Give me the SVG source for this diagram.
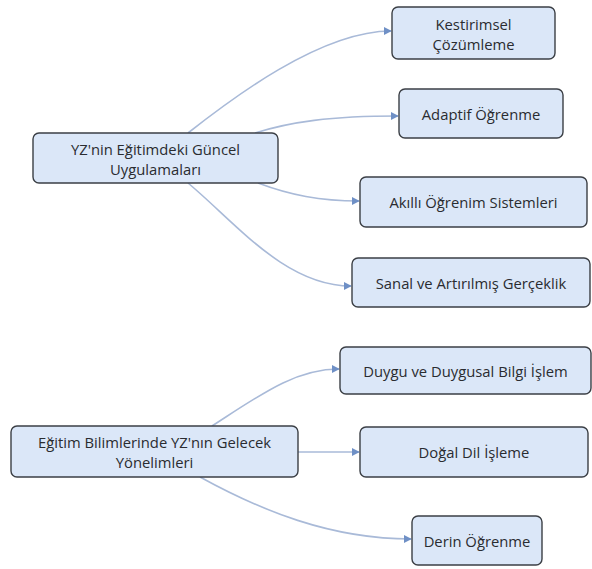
<svg xmlns="http://www.w3.org/2000/svg" width="592" height="569" viewBox="0 0 592 569">
  <style>
    .box { fill: #dbe7f8; stroke: #3b3f45; stroke-width: 1.4; }
    .lbl { font-family: "Open Sans", "Noto Sans", "Liberation Sans", sans-serif; font-size: 14.8px; fill: #2a2c30; text-anchor: middle; dominant-baseline: central; }
    .link { fill: none; stroke: #a9bad8; stroke-width: 1.6; }
  </style>
  <defs>
    <marker id="arrow" viewBox="0 0 10 10" refX="9" refY="5" markerWidth="8" markerHeight="8" markerUnits="userSpaceOnUse" orient="auto">
      <path d="M0,0 L10,5 L0,10 Z" fill="#6f90c6"/>
    </marker>
  </defs>
  <rect width="592" height="569" fill="#ffffff"/>

  <g id="connectors">
    <path class="link" marker-end="url(#arrow)" d="M188,133 C230,100 320,31 391,31"/>
    <path class="link" marker-end="url(#arrow)" d="M255,133 C290,122 330,116 398,116"/>
    <path class="link" marker-end="url(#arrow)" d="M258,183 C290,195 320,201 359,201"/>
    <path class="link" marker-end="url(#arrow)" d="M188,183 C235,222 285,286 351,286"/>
    <path class="link" marker-end="url(#arrow)" d="M212,426 C260,395 295,369 339,369"/>
    <path class="link" marker-end="url(#arrow)" d="M298,452 L359,452"/>
    <path class="link" marker-end="url(#arrow)" d="M200,477 C260,510 330,539 411,539"/>
  </g>

  <g id="node-guncel">
    <rect class="box" x="33" y="133" width="245" height="50" rx="6"/>
    <text class="lbl" x="155.5" y="148.5">YZ'nin Eğitimdeki Güncel</text>
    <text class="lbl" x="155.5" y="168.5">Uygulamaları</text>
  </g>
  <g id="node-kestirimsel">
    <rect class="box" x="392" y="7" width="163" height="52" rx="6"/>
    <text class="lbl" x="473.5" y="24">Kestirimsel</text>
    <text class="lbl" x="473.5" y="44">Çözümleme</text>
  </g>
  <g id="node-adaptif">
    <rect class="box" x="399" y="89" width="164" height="49" rx="6"/>
    <text class="lbl" x="481" y="114">Adaptif Öğrenme</text>
  </g>
  <g id="node-akilli">
    <rect class="box" x="360" y="177" width="227" height="50" rx="6"/>
    <text class="lbl" x="473.5" y="202">Akıllı Öğrenim Sistemleri</text>
  </g>
  <g id="node-sanal">
    <rect class="box" x="352" y="258" width="238" height="49" rx="6"/>
    <text class="lbl" x="471" y="283">Sanal ve Artırılmış Gerçeklik</text>
  </g>

  <g id="node-gelecek">
    <rect class="box" x="11" y="426" width="287" height="51" rx="6"/>
    <text class="lbl" x="154.5" y="442">Eğitim Bilimlerinde YZ'nın Gelecek</text>
    <text class="lbl" x="154.5" y="462">Yönelimleri</text>
  </g>
  <g id="node-duygu">
    <rect class="box" x="340" y="347" width="251" height="47" rx="6"/>
    <text class="lbl" x="465.5" y="371">Duygu ve Duygusal Bilgi İşlem</text>
  </g>
  <g id="node-dogal">
    <rect class="box" x="360" y="427" width="228" height="50" rx="6"/>
    <text class="lbl" x="474" y="452">Doğal Dil İşleme</text>
  </g>
  <g id="node-derin">
    <rect class="box" x="412" y="516" width="130" height="49" rx="6"/>
    <text class="lbl" x="477" y="541">Derin Öğrenme</text>
  </g>
</svg>
